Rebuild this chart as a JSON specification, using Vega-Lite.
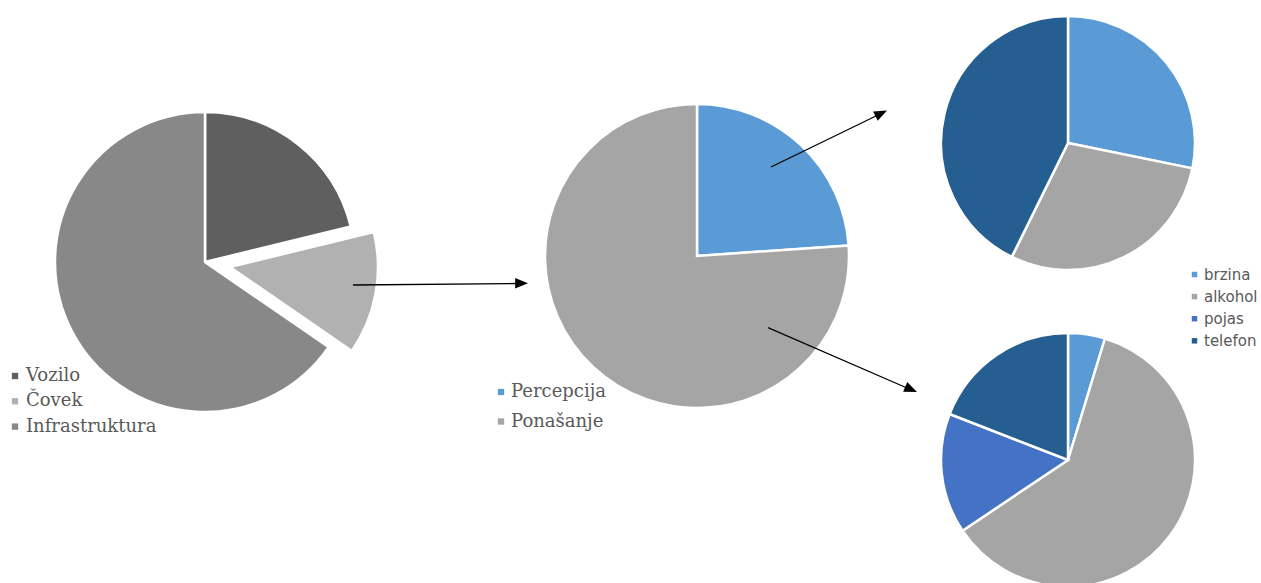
{
  "$schema": "https://vega.github.io/schema/vega-lite/v6.json",
  "width": 1261,
  "height": 583,
  "autosize": {"type": "none"},
  "padding": 0,
  "background": "white",
  "config": {
    "view": {"stroke": null},
    "legend": {"orient": "none", "title": null, "padding": 0, "symbolType": "square", "symbolStrokeWidth": 0, "labelColor": "#595959"}
  },
  "datasets": {
    "uzrok": [
      {"kategorija": "Vozilo", "udeo": 21.2, "red": 1},
      {"kategorija": "Čovek", "udeo": 13.4, "red": 2},
      {"kategorija": "Infrastruktura", "udeo": 65.4, "red": 3}
    ],
    "covek": [
      {"kategorija": "Percepcija", "udeo": 23.9, "red": 1},
      {"kategorija": "Ponašanje", "udeo": 76.1, "red": 2}
    ],
    "percepcija": [
      {"kategorija": "brzina", "udeo": 28.2, "red": 1},
      {"kategorija": "alkohol", "udeo": 29.1, "red": 2},
      {"kategorija": "telefon", "udeo": 42.7, "red": 4}
    ],
    "ponasanje": [
      {"kategorija": "brzina", "udeo": 4.7, "red": 1},
      {"kategorija": "alkohol", "udeo": 60.9, "red": 2},
      {"kategorija": "pojas", "udeo": 15.3, "red": 3},
      {"kategorija": "telefon", "udeo": 19.1, "red": 4}
    ]
  },
  "layer": [
    {
      "data": {"name": "uzrok"},
      "encoding": {
        "theta": {"field": "udeo", "type": "quantitative", "stack": true},
        "order": {"field": "red", "type": "quantitative"},
        "color": {
          "field": "kategorija", "type": "nominal",
          "scale": {"domain": ["Vozilo", "Čovek", "Infrastruktura"], "range": ["#5f5f5f", "#b1b1b1", "#888888"]},
          "legend": {"legendX": 6, "legendY": 367, "symbolSize": 40, "labelFont": "DejaVu Serif", "labelFontSize": 18, "rowPadding": 7.3, "labelOffset": 2}
        }
      },
      "layer": [
        {
          "mark": {"type": "arc", "outerRadius": 150, "stroke": "white", "strokeWidth": 2.5},
          "encoding": {
            "x": {"datum": 205, "type": "quantitative", "scale": {"domain": [0, 1261]}, "axis": null},
            "y": {"datum": 262, "type": "quantitative", "scale": {"domain": [0, 583], "reverse": true}, "axis": null},
            "opacity": {"condition": {"test": "datum.kategorija === 'Čovek'", "value": 0}, "value": 1}
          }
        },
        {
          "mark": {"type": "arc", "outerRadius": 148, "stroke": "white", "strokeWidth": 2.5},
          "encoding": {
            "x": {"datum": 230, "type": "quantitative", "scale": {"domain": [0, 1261]}, "axis": null},
            "y": {"datum": 267, "type": "quantitative", "scale": {"domain": [0, 583], "reverse": true}, "axis": null},
            "opacity": {"condition": {"test": "datum.kategorija === 'Čovek'", "value": 1}, "value": 0}
          }
        }
      ]
    },
    {
      "data": {"name": "covek"},
      "mark": {"type": "arc", "outerRadius": 152, "stroke": "white", "strokeWidth": 2.5},
      "encoding": {
        "x": {"datum": 697, "type": "quantitative", "scale": {"domain": [0, 1261]}, "axis": null},
        "y": {"datum": 256, "type": "quantitative", "scale": {"domain": [0, 583], "reverse": true}, "axis": null},
        "theta": {"field": "udeo", "type": "quantitative", "stack": true},
        "order": {"field": "red", "type": "quantitative"},
        "color": {
          "field": "kategorija", "type": "nominal",
          "scale": {"domain": ["Percepcija", "Ponašanje"], "range": ["#5b9bd5", "#a5a5a5"]},
          "legend": {"legendX": 492, "legendY": 383, "symbolSize": 40, "labelFont": "DejaVu Serif", "labelFontSize": 18, "rowPadding": 11.5, "labelOffset": 1}
        }
      }
    },
    {
      "layer": [
        {
          "data": {"name": "percepcija"},
          "mark": {"type": "arc", "outerRadius": 127, "stroke": "white", "strokeWidth": 2.5},
          "encoding": {
            "x": {"datum": 1068, "type": "quantitative", "scale": {"domain": [0, 1261]}, "axis": null},
            "y": {"datum": 143, "type": "quantitative", "scale": {"domain": [0, 583], "reverse": true}, "axis": null},
            "theta": {"field": "udeo", "type": "quantitative", "stack": true},
            "order": {"field": "red", "type": "quantitative"},
            "color": {
              "field": "kategorija", "type": "nominal",
              "scale": {"domain": ["brzina", "alkohol", "pojas", "telefon"], "range": ["#5b9bd5", "#a5a5a5", "#4472c4", "#255e91"]},
              "legend": {"legendX": 1187, "legendY": 267, "symbolSize": 30, "labelFont": "DejaVu Sans", "labelFontSize": 15, "rowPadding": 6.1, "labelOffset": 2}
            }
          }
        },
        {
          "data": {"name": "ponasanje"},
          "mark": {"type": "arc", "outerRadius": 127, "stroke": "white", "strokeWidth": 2.5},
          "encoding": {
            "x": {"datum": 1068, "type": "quantitative", "scale": {"domain": [0, 1261]}, "axis": null},
            "y": {"datum": 460, "type": "quantitative", "scale": {"domain": [0, 583], "reverse": true}, "axis": null},
            "theta": {"field": "udeo", "type": "quantitative", "stack": true},
            "order": {"field": "red", "type": "quantitative"},
            "color": {
              "field": "kategorija", "type": "nominal",
              "scale": {"domain": ["brzina", "alkohol", "pojas", "telefon"], "range": ["#5b9bd5", "#a5a5a5", "#4472c4", "#255e91"]},
              "legend": {"legendX": 1187, "legendY": 267, "symbolSize": 30, "labelFont": "DejaVu Sans", "labelFontSize": 15, "rowPadding": 6.1, "labelOffset": 2}
            }
          }
        }
      ],
      "resolve": {"scale": {"theta": "independent"}}
    },
    {
      "data": {"values": [{}]},
      "layer": [
        {
          "mark": {"type": "rule", "color": "black", "strokeWidth": 1.3},
          "encoding": {
            "x": {"datum": 353, "type": "quantitative", "scale": {"domain": [0, 1261]}, "axis": null},
            "y": {"datum": 285, "type": "quantitative", "scale": {"domain": [0, 583], "reverse": true}, "axis": null},
            "x2": {"datum": 518},
            "y2": {"datum": 283.5}
          }
        },
        {
          "mark": {"type": "point", "shape": "M0,0L0.85,2.1L-0.85,2.1Z", "filled": true, "color": "black", "opacity": 1, "size": 150, "angle": 90.5},
          "encoding": {
            "x": {"datum": 528, "type": "quantitative", "scale": {"domain": [0, 1261]}, "axis": null},
            "y": {"datum": 283.3, "type": "quantitative", "scale": {"domain": [0, 583], "reverse": true}, "axis": null}
          }
        },
        {
          "mark": {"type": "rule", "color": "black", "strokeWidth": 1.3},
          "encoding": {
            "x": {"datum": 771, "type": "quantitative", "scale": {"domain": [0, 1261]}, "axis": null},
            "y": {"datum": 167, "type": "quantitative", "scale": {"domain": [0, 583], "reverse": true}, "axis": null},
            "x2": {"datum": 878},
            "y2": {"datum": 115}
          }
        },
        {
          "mark": {"type": "point", "shape": "M0,0L0.85,2.1L-0.85,2.1Z", "filled": true, "color": "black", "opacity": 1, "size": 150, "angle": 64},
          "encoding": {
            "x": {"datum": 887, "type": "quantitative", "scale": {"domain": [0, 1261]}, "axis": null},
            "y": {"datum": 110.5, "type": "quantitative", "scale": {"domain": [0, 583], "reverse": true}, "axis": null}
          }
        },
        {
          "mark": {"type": "rule", "color": "black", "strokeWidth": 1.3},
          "encoding": {
            "x": {"datum": 768, "type": "quantitative", "scale": {"domain": [0, 1261]}, "axis": null},
            "y": {"datum": 327.7, "type": "quantitative", "scale": {"domain": [0, 583], "reverse": true}, "axis": null},
            "x2": {"datum": 907},
            "y2": {"datum": 388}
          }
        },
        {
          "mark": {"type": "point", "shape": "M0,0L0.85,2.1L-0.85,2.1Z", "filled": true, "color": "black", "opacity": 1, "size": 150, "angle": 113.4},
          "encoding": {
            "x": {"datum": 917, "type": "quantitative", "scale": {"domain": [0, 1261]}, "axis": null},
            "y": {"datum": 392, "type": "quantitative", "scale": {"domain": [0, 583], "reverse": true}, "axis": null}
          }
        }
      ]
    }
  ],
  "resolve": {"scale": {"color": "independent", "theta": "independent"}}
}
